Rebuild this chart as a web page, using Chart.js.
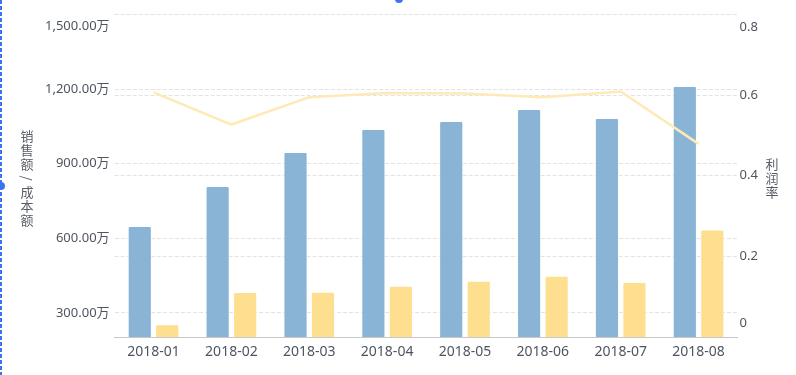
<!DOCTYPE html>
<html>
<head>
<meta charset="utf-8">
<script src="https://cdn.jsdelivr.net/npm/chart.js@4.4.1/dist/chart.umd.min.js"></script>
<style>
  html, body { margin: 0; padding: 0; background: #fff; }
  #wrap { position: relative; width: 796px; height: 375px; overflow: hidden; }
  #salesChart { position: absolute; left: 0; top: 0; }
  .axis-title {
    position: absolute;
    width: 16px;
    text-align: center;
    font-family: "Noto Sans CJK SC", "Noto Sans", sans-serif;
    font-size: 13px;
    line-height: 14px;
    color: #585c65;
  }
  .axis-title .slash { display: inline-block; transform: rotate(90deg); }
  /* editor selection frame visible in the screenshot */
  #frame-left {
    position: absolute; left: 0; top: 0; width: 2px; height: 375px;
    background: repeating-linear-gradient(to bottom, #3b73f0 0 4px, transparent 4px 6px);
  }
  .handle { position: absolute; width: 8px; height: 8px; border-radius: 50%; background: #3b73f0; }
</style>
</head>
<body>
<div id="wrap">
  <canvas id="salesChart" width="796" height="375"></canvas>
  <div class="axis-title" style="left:19px; top:129px;">销<br>售<br>额<br><span class="slash">/</span><br>成<br>本<br>额</div>
  <div class="axis-title" style="left:764px; top:157px;">利<br>润<br>率</div>
  <div id="frame-left"></div>
  <div class="handle" style="left:-3px; top:182px;"></div>
  <div class="handle" style="left:395px; top:-5px;"></div>
</div>
<script>
const months = ['2018-01', '2018-02', '2018-03', '2018-04', '2018-05', '2018-06', '2018-07', '2018-08'];
const sales = [650, 811, 947, 1040, 1072, 1120, 1084, 1213];      // 万
const costs = [255, 384, 385, 410, 430, 450, 425, 636];           // 万
const profitRate = [0.607, 0.527, 0.595, 0.605, 0.604, 0.595, 0.609, 0.479];
const leftTicks = [300, 600, 900, 1200, 1500];
const rightTicks = [0, 0.2, 0.4, 0.6, 0.8];

const fontFamily = '"Noto Sans", "Noto Sans CJK SC", sans-serif';
const labelColor = '#4f5560';
const gridColor = '#e3e3e3';

// edge labels sit inside the plot like the original: push them in with a taller line
function edgeFont(ctx, shifts) {
  const shift = shifts[ctx.index];
  return { family: fontFamily, size: 13, lineHeight: shift ? (2 * Math.abs(shift)) + 'px' : 1.2 };
}
function edgeLabel(text, shift) {
  if (!shift) return text;
  return shift > 0 ? ['', text] : [text, ''];
}
const leftShift = { 4: 11.5 };
const rightShift = { 0: -14, 4: 12.5 };

function fixY(width) {
  return scale => {
    scale.width = width;
    scale.paddingTop = 0;
    scale.paddingBottom = 0;
  };
}

new Chart(document.getElementById('salesChart').getContext('2d'), {
  type: 'bar',
  data: {
    labels: months,
    datasets: [
      {
        type: 'line',
        label: '利润率',
        data: profitRate,
        yAxisID: 'yRate',
        borderColor: '#feeab6',
        borderWidth: 2.5,
        pointRadius: 0,
        tension: 0,
        order: 0
      },
      {
        label: '销售额',
        data: sales,
        yAxisID: 'yAmount',
        backgroundColor: '#8ab4d5',
        borderColor: 'rgba(255,255,255,0.55)',
        borderWidth: 1,
        borderRadius: 2,
        borderSkipped: 'bottom',
        order: 1
      },
      {
        label: '成本额',
        data: costs,
        yAxisID: 'yAmount',
        backgroundColor: '#fedf8f',
        borderColor: 'rgba(255,255,255,0.55)',
        borderWidth: 1,
        borderRadius: 2,
        borderSkipped: 'bottom',
        order: 1
      }
    ]
  },
  options: {
    responsive: false,
    animation: false,
    categoryPercentage: 0.706,
    barPercentage: 0.88,
    layout: { padding: { top: 14.5, left: 0, right: 0, bottom: 0 } },
    plugins: {
      legend: { display: false },
      tooltip: { enabled: false }
    },
    scales: {
      x: {
        grid: { display: false, drawTicks: false, tickLength: 0 },
        border: { display: true, color: '#c8c8c8', width: 1 },
        ticks: { color: labelColor, font: { family: fontFamily, size: 14 }, padding: 7, maxRotation: 0 },
        afterFit: scale => { scale.height = 38; }
      },
      yAmount: {
        position: 'left',
        min: 203.5,
        max: 1500,
        afterBuildTicks: scale => { scale.ticks = leftTicks.map(v => ({ value: v })); },
        afterFit: fixY(114.6),
        grid: { color: gridColor, drawTicks: false, tickLength: 0 },
        border: { display: false, dash: [4, 2] },
        ticks: {
          color: labelColor,
          font: ctx => edgeFont(ctx, leftShift),
          padding: 5,
          callback: (value, i) => edgeLabel(value.toLocaleString('en-US', { minimumFractionDigits: 2, maximumFractionDigits: 2 }) + '万', leftShift[i])
        }
      },
      yRate: {
        position: 'right',
        min: 0,
        max: 0.8,
        afterBuildTicks: scale => { scale.ticks = rightTicks.map(v => ({ value: v })); },
        afterFit: fixY(58.5),
        grid: { color: gridColor, drawTicks: false, tickLength: 0 },
        border: { display: false, dash: [4, 2] },
        ticks: {
          color: labelColor,
          font: ctx => edgeFont(ctx, rightShift),
          padding: 2,
          callback: (value, i) => edgeLabel(String(value), rightShift[i])
        }
      }
    }
  }
});
</script>
</body>
</html>
